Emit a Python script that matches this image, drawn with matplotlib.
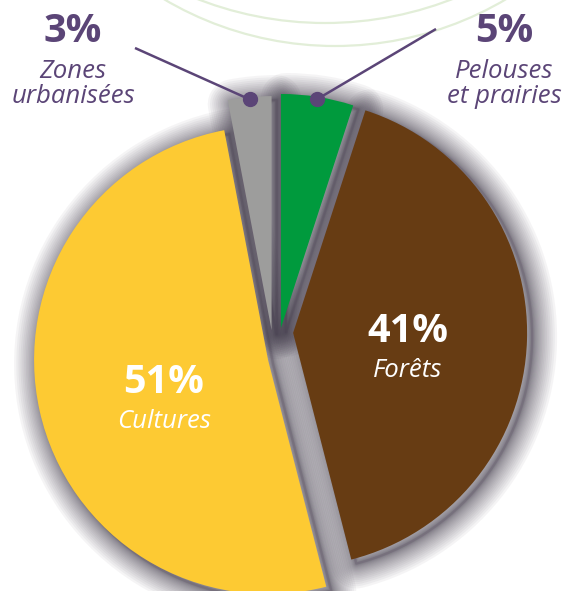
import numpy as np
import matplotlib.pyplot as plt
from matplotlib.patches import Circle

plt.rcParams['font.family'] = ['Open Sans', 'DejaVu Sans']

# Occupation du sol, en %
categories = ["Pelouses et prairies", "Forêts", "Cultures", "Zones urbanisées"]
label_lines = [["Pelouses", "et prairies"], ["Forêts"], ["Cultures"], ["Zones", "urbanisées"]]
values = [5, 41, 51, 3]
colors = ["#009a3d", "#673c13", "#fdca33", "#9d9d9c"]

W, H = 563, 591
R_PX = 234            # pie radius in pixels
CX, CY = 280, 335     # pie reference point, pixels from the top-left corner

# each slice is pulled away a little (in pie radii)
offsets = [(0.004, 0.030), (0.056, 0.009), (-0.051, -0.107), (-0.036, 0.021)]

purple = "#5b4577"
shadow = "#403949"


def px(x, y):
    return ((x - CX) / R_PX, (CY - y) / R_PX)


def frac(x, y):
    return (x / W, 1 - y / H)


fig = plt.figure(figsize=(W / 100, H / 100), dpi=100)
ax = fig.add_axes([0, 0, 1, 1])


def draw_pie(cols, shift=(0, 0), **wedgeprops):
    wedges, _ = ax.pie(values, colors=cols, startangle=90, counterclock=False,
                       radius=1, wedgeprops=wedgeprops)
    for w, (dx, dy) in zip(wedges, offsets):
        w.set_center((dx + shift[0], dy + shift[1]))
    return wedges


# faint decorative arcs at the top
for (x, y, r) in [(325, -328, 351), (335, -290, 336)]:
    ax.add_patch(Circle(px(x, y), r / R_PX, fill=False, edgecolor="#e2eed8",
                        linewidth=1.6, zorder=0))

# soft drop shadow: stacked translucent outlines, denser near the edge
n_layers = 22
for k in range(n_layers):
    half = 1 + 24 * (k / (n_layers - 1)) ** 2.0
    ws = draw_pie([shadow] * len(values), shift=(5 / R_PX, -4 / R_PX),
                  linewidth=2 * half * 0.72, edgecolor=shadow, alpha=0.052,
                  joinstyle='round', zorder=1)
    for w in ws:
        w.set_facecolor('none')

wedges = draw_pie(colors, linewidth=0, zorder=2)

ax.set_xlim(-CX / R_PX, (W - CX) / R_PX)
ax.set_ylim(-(H - CY) / R_PX, CY / R_PX)
ax.set_aspect('equal')
ax.axis('off')

pct_style = dict(ha='center', va='baseline', fontsize=28.5, fontweight='bold',
                 transform=ax.transAxes, zorder=5)
name_style = dict(ha='center', va='baseline', fontsize=18.5, style='italic',
                  transform=ax.transAxes, zorder=5)

# outside labels with leader lines (small slices)
outside = {0: dict(pos=(504, 42), start=(436, 29)),
           3: dict(pos=(73, 42), start=(135, 48))}
for i, spec in outside.items():
    x0, y0 = spec['pos']
    ax.text(*frac(x0, y0), f"{values[i]}%", color=purple, **pct_style)
    for j, line in enumerate(label_lines[i]):
        ax.text(*frac(x0, y0 + 36 + 25 * j), line, color=purple, **name_style)

    w = wedges[i]
    mid = np.deg2rad((w.theta1 + w.theta2) / 2)
    cx, cy = w.center
    dot = (cx + 0.99 * w.r * np.cos(mid), cy + 0.99 * w.r * np.sin(mid))
    sx, sy = px(*spec['start'])
    ax.plot([sx, dot[0]], [sy, dot[1]], color=purple, linewidth=1.8,
            solid_capstyle='butt', zorder=3)
    ax.plot(*dot, 'o', color=purple, markersize=10, zorder=4)

# labels inside the large slices
inside = {1: (408, 342), 2: (164, 393)}
for i, (x0, y0) in inside.items():
    ax.text(*frac(x0, y0), f"{values[i]}%", color="white", **pct_style)
    ax.text(*frac(x0, y0 + 35), label_lines[i][0], color="white", **name_style)

fig.savefig("out.png", dpi=100, facecolor="white")
